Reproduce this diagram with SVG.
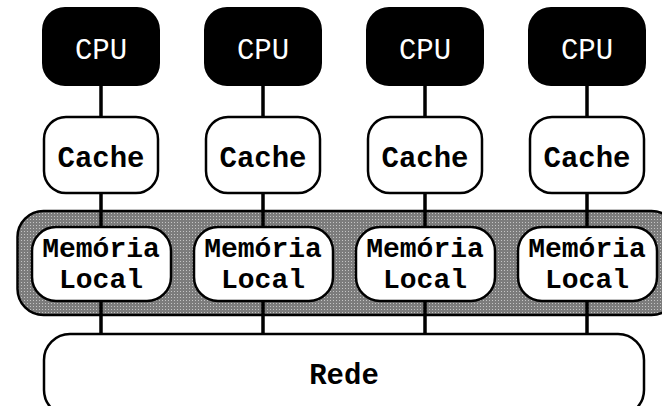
<svg xmlns="http://www.w3.org/2000/svg" width="662" height="406" viewBox="0 0 662 406">
<defs>
<style>
.t{font-family:"Liberation Mono","Courier New",monospace;font-weight:bold;font-size:29px;text-anchor:middle;fill:#000}
.m{font-size:28px}
.w{fill:#fff;font-weight:normal}
.box{fill:#fff;stroke:#000;stroke-width:2.5}
.cpu{fill:#000;stroke:#000;stroke-width:2}
.ln{stroke:#000;stroke-width:3.5;fill:none}
</style>
<pattern id="dots" width="3" height="3" patternUnits="userSpaceOnUse">
<rect width="3" height="3" fill="#7c7c7c"/>
<rect width="1" height="1" fill="#c4c4c4"/>
</pattern>
</defs>
<rect width="662" height="406" fill="#fff"/>
<g id="band">
<rect x="17.5" y="211" width="660" height="104" rx="26" fill="url(#dots)" stroke="#000" stroke-width="2.5"/>
</g>
<g id="connectors">
<path class="ln" d="M101 85V117M101 193V227M101 301V334"/>
<path class="ln" d="M263 85V117M263 193V227M263 301V334"/>
<path class="ln" d="M425 85V117M425 193V227M425 301V334"/>
<path class="ln" d="M587 85V117M587 193V227M587 301V334"/>
</g>
<g id="cpu1"><rect class="cpu" x="43" y="8" width="116" height="77" rx="22"/><text class="t w" x="101" y="59">CPU</text></g>
<g id="cpu2"><rect class="cpu" x="205" y="8" width="116" height="77" rx="22"/><text class="t w" x="263" y="59">CPU</text></g>
<g id="cpu3"><rect class="cpu" x="367" y="8" width="116" height="77" rx="22"/><text class="t w" x="425" y="59">CPU</text></g>
<g id="cpu4"><rect class="cpu" x="529" y="8" width="116" height="77" rx="22"/><text class="t w" x="587" y="59">CPU</text></g>
<g id="cache1"><rect class="box" x="44" y="117" width="114" height="76" rx="22"/><text class="t" x="101" y="167">Cache</text></g>
<g id="cache2"><rect class="box" x="206" y="117" width="114" height="76" rx="22"/><text class="t" x="263" y="167">Cache</text></g>
<g id="cache3"><rect class="box" x="368" y="117" width="114" height="76" rx="22"/><text class="t" x="425" y="167">Cache</text></g>
<g id="cache4"><rect class="box" x="530" y="117" width="114" height="76" rx="22"/><text class="t" x="587" y="167">Cache</text></g>
<g id="mem1"><rect class="box" x="32" y="227" width="139" height="74" rx="24"/><text class="t m" x="101" y="257">Memória</text><text class="t m" x="101" y="288">Local</text></g>
<g id="mem2"><rect class="box" x="194" y="227" width="139" height="74" rx="24"/><text class="t m" x="263" y="257">Memória</text><text class="t m" x="263" y="288">Local</text></g>
<g id="mem3"><rect class="box" x="356" y="227" width="139" height="74" rx="24"/><text class="t m" x="425" y="257">Memória</text><text class="t m" x="425" y="288">Local</text></g>
<g id="mem4"><rect class="box" x="518" y="227" width="139" height="74" rx="24"/><text class="t m" x="587" y="257">Memória</text><text class="t m" x="587" y="288">Local</text></g>
<g id="rede"><rect class="box" x="44" y="334" width="600" height="82" rx="26"/><text class="t" x="344" y="384">Rede</text></g>
</svg>
